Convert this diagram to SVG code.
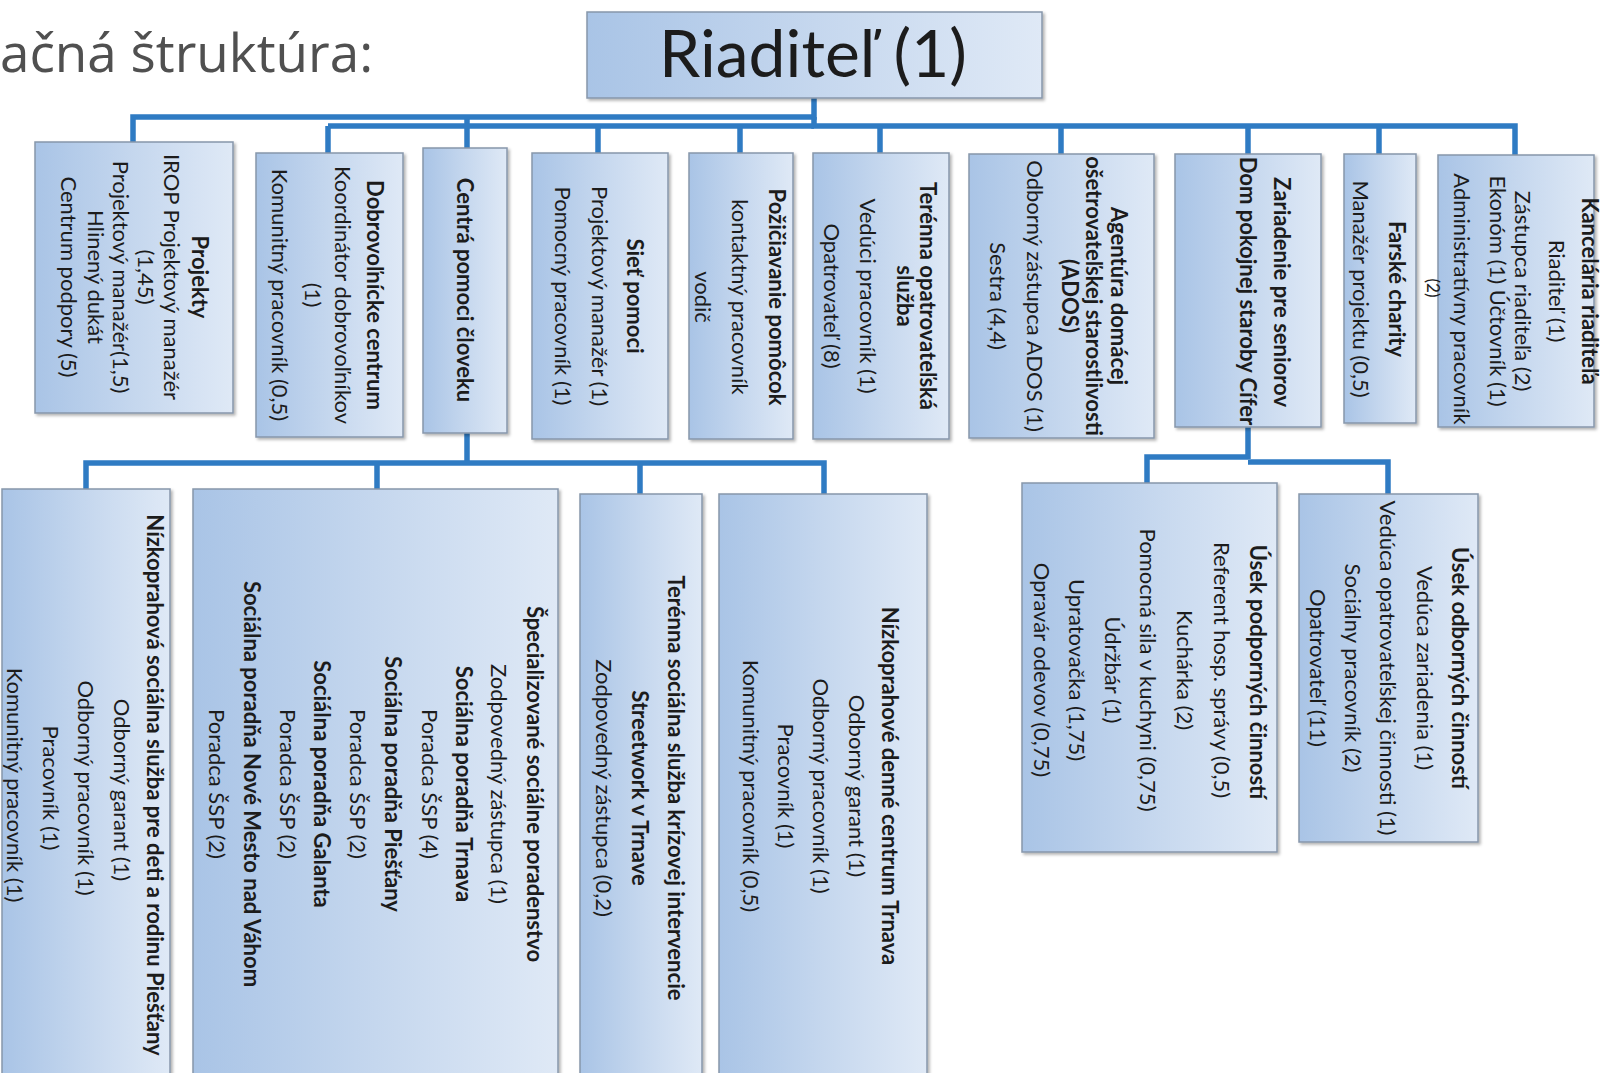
<svg xmlns="http://www.w3.org/2000/svg" width="1609" height="1073" viewBox="0 0 1609 1073">
<defs>
<linearGradient id="bg" x1="0" y1="0" x2="1" y2="0">
<stop offset="0" stop-color="#a9c4e6"/>
<stop offset="0.5" stop-color="#c5d7ee"/>
<stop offset="1" stop-color="#dfe9f6"/>
</linearGradient>
<filter id="sh" x="-5%" y="-5%" width="115%" height="115%">
<feDropShadow dx="2" dy="2" stdDeviation="1.5" flood-color="#000" flood-opacity="0.3"/>
</filter>
<style>
.box{fill:url(#bg);stroke:#8796ab;stroke-width:1.5;filter:url(#sh)}
.t{font-family:Lato,"Open Sans","DejaVu Sans",sans-serif;font-size:22px;fill:#1c1c1c;text-anchor:middle;dominant-baseline:central}
.b{font-weight:bold}
.s{font-size:17px}
.c{fill:none;stroke:#2f7bc3;stroke-width:5.5;stroke-linejoin:miter;stroke-linecap:butt}
</style>
</defs>
<rect width="1609" height="1073" fill="#ffffff"/>
<text x="0" y="72" style="font-family:'Open Sans','Noto Sans',sans-serif;font-size:53px;fill:#505050">ačná štruktúra:</text>

<g id="connectors">
<path class="c" d="M814 98V117H133V142"/>
<path class="c" d="M467 117V148"/>
<path class="c" d="M814 117V126H1515V156"/>
<path class="c" d="M328 126H814M328 126V153"/>
<path class="c" d="M598 126V153M740 126V153M880 126V153M1061 126V154M1248 126V154M1379 126V154"/>
<path class="c" d="M467 433V463M86 489V463H824V494M377 463V489M640 463V494"/>
<path class="c" d="M1248 427V459M1147 483V457H1248M1248 462H1388V494"/>
</g>

<g id="root">
<rect class="box" x="587" y="12" width="455" height="86"/>
<text x="813" y="77" style="font-family:Lato,sans-serif;font-size:66px;fill:#1c1c1c;text-anchor:middle">Riaditeľ (1)</text>
</g>

<g id="projekty">
<rect class="box" x="35" y="142" width="198" height="271"/>
<text class="t b" transform="translate(200,277) rotate(90)">Projekty</text>
<text class="t" transform="translate(172,277) rotate(90)">IROP Projektový manažér</text>
<text class="t" transform="translate(146,277) rotate(90)">(1,45)</text>
<text class="t" transform="translate(121,277) rotate(90)">Projektový manažér(1,5)</text>
<text class="t" transform="translate(96,277) rotate(90)">Hlinený dukát</text>
<text class="t" transform="translate(69,277) rotate(90)">Centrum podpory (5)</text>
</g>

<g id="dobrovolnicke">
<rect class="box" x="256" y="153" width="147" height="284"/>
<text class="t b" transform="translate(375,295) rotate(90)">Dobrovoľnícke centrum</text>
<text class="t" transform="translate(343,295) rotate(90)">Koordinátor dobrovoľníkov</text>
<text class="t" transform="translate(313,295) rotate(90)">(1)</text>
<text class="t" transform="translate(280,295) rotate(90)">Komunitný pracovník (0,5)</text>
</g>

<g id="centra">
<rect class="box" x="423" y="148" width="84" height="285"/>
<text class="t b" transform="translate(465,290) rotate(90)">Centrá pomoci človeku</text>
</g>

<g id="siet">
<rect class="box" x="532" y="153" width="136" height="286"/>
<text class="t b" transform="translate(635,296) rotate(90)">Sieť pomoci</text>
<text class="t" transform="translate(600,296) rotate(90)">Projektový manažér (1)</text>
<text class="t" transform="translate(563,296) rotate(90)">Pomocný pracovník (1)</text>
</g>

<g id="pozicianie">
<rect class="box" x="689" y="153" width="104" height="286"/>
<text class="t b" transform="translate(777,297) rotate(90)">Požičiavanie pomôcok</text>
<text class="t" transform="translate(740,297) rotate(90)">kontaktný pracovník</text>
<text class="t" transform="translate(703,297) rotate(90)">vodič</text>
</g>

<g id="terenna-opatrovatelska">
<rect class="box" x="813" y="153" width="136" height="286"/>
<text class="t b" transform="translate(928,296) rotate(90)">Terénna opatrovateľská</text>
<text class="t b" transform="translate(905,296) rotate(90)">služba</text>
<text class="t" transform="translate(868,296) rotate(90)">Vedúci pracovník (1)</text>
<text class="t" transform="translate(832,296) rotate(90)">Opatrovateľ (8)</text>
</g>

<g id="agentura">
<rect class="box" x="969" y="154" width="185" height="284"/>
<text class="t b" transform="translate(1119,296) rotate(90)">Agentúra domácej</text>
<text class="t b" transform="translate(1094,296) rotate(90)">ošetrovateľskej starostlivosti</text>
<text class="t b" transform="translate(1070,296) rotate(90)">(ADOS)</text>
<text class="t" transform="translate(1035,296) rotate(90)">Odborný zástupca ADOS (1)</text>
<text class="t" transform="translate(998,296) rotate(90)">Sestra (4,4)</text>
</g>

<g id="zariadenie">
<rect class="box" x="1175" y="154" width="146" height="273"/>
<text class="t b" transform="translate(1282,292) rotate(90)">Zariadenie pre seniorov</text>
<text class="t b" transform="translate(1248,291) rotate(90)">Dom pokojnej staroby Cífer</text>
</g>

<g id="farske">
<rect class="box" x="1344" y="154" width="72" height="269"/>
<text class="t b" transform="translate(1397,289) rotate(90)">Farské charity</text>
<text class="t" transform="translate(1361,289) rotate(90)">Manažér projektu (0,5)</text>
</g>

<g id="kancelaria">
<rect class="box" x="1438" y="155" width="156" height="272"/>
<text class="t b" transform="translate(1590,291) rotate(90)">Kancelária riaditeľa</text>
<text class="t" transform="translate(1557,291) rotate(90)">Riaditeľ (1)</text>
<text class="t" transform="translate(1523,291) rotate(90)">Zástupca riaditeľa (2)</text>
<text class="t" transform="translate(1498,291) rotate(90)">Ekonóm (1) Účtovník (1)</text>
<text class="t" transform="translate(1462,299) rotate(90)">Administratívny pracovník</text>
<text class="t s" transform="translate(1433,288) rotate(90)">(2)</text>
</g>

<g id="nizkoprahova-piestany">
<rect class="box" x="2" y="489" width="168" height="600"/>
<text class="t b" transform="translate(155,785) rotate(90)">Nízkoprahová sociálna služba pre deti a rodinu Piešťany</text>
<text class="t" transform="translate(122,790) rotate(90)">Odborný garant (1)</text>
<text class="t" transform="translate(86,788) rotate(90)">Odborný pracovník (1)</text>
<text class="t" transform="translate(51,788) rotate(90)">Pracovník (1)</text>
<text class="t" transform="translate(15,785) rotate(90)">Komunitný pracovník (1)</text>
</g>

<g id="specializovane">
<rect class="box" x="193" y="489" width="365" height="600"/>
<text class="t b" transform="translate(535,784) rotate(90)">Špecializované sociálne poradenstvo</text>
<text class="t" transform="translate(499,784) rotate(90)">Zodpovedný zástupca (1)</text>
<text class="t b" transform="translate(464,784) rotate(90)">Sociálna poradňa Trnava</text>
<text class="t" transform="translate(430,784) rotate(90)">Poradca ŠSP (4)</text>
<text class="t b" transform="translate(393,784) rotate(90)">Sociálna poradňa Piešťany</text>
<text class="t" transform="translate(358,784) rotate(90)">Poradca ŠSP (2)</text>
<text class="t b" transform="translate(322,784) rotate(90)">Sociálna poradňa Galanta</text>
<text class="t" transform="translate(288,784) rotate(90)">Poradca ŠSP (2)</text>
<text class="t b" transform="translate(252,784) rotate(90)">Sociálna poradňa Nové Mesto nad Váhom</text>
<text class="t" transform="translate(217,784) rotate(90)">Poradca ŠSP (2)</text>
</g>

<g id="terenna-socialna">
<rect class="box" x="580" y="494" width="122" height="595"/>
<text class="t b" transform="translate(676,788) rotate(90)">Terénna sociálna služba krízovej intervencie</text>
<text class="t b" transform="translate(640,788) rotate(90)">Streetwork v Trnave</text>
<text class="t" transform="translate(604,788) rotate(90)">Zodpovedný zástupca (0,2)</text>
</g>

<g id="nizkoprahove-trnava">
<rect class="box" x="719" y="494" width="208" height="595"/>
<text class="t b" transform="translate(890,786) rotate(90)">Nízkoprahové denné centrum Trnava</text>
<text class="t" transform="translate(857,786) rotate(90)">Odborný garant (1)</text>
<text class="t" transform="translate(821,786) rotate(90)">Odborný pracovník (1)</text>
<text class="t" transform="translate(786,786) rotate(90)">Pracovník (1)</text>
<text class="t" transform="translate(751,786) rotate(90)">Komunitný pracovník (0,5)</text>
</g>

<g id="usek-podpornych">
<rect class="box" x="1022" y="483" width="255" height="369"/>
<text class="t b" transform="translate(1258,672) rotate(90)">Úsek podporných činností</text>
<text class="t" transform="translate(1222,670) rotate(90)">Referent hosp. správy (0,5)</text>
<text class="t" transform="translate(1185,670) rotate(90)">Kuchárka (2)</text>
<text class="t" transform="translate(1148,670) rotate(90)">Pomocná sila v kuchyni (0,75)</text>
<text class="t" transform="translate(1113,670) rotate(90)">Údržbár (1)</text>
<text class="t" transform="translate(1077,670) rotate(90)">Upratovačka (1,75)</text>
<text class="t" transform="translate(1042,670) rotate(90)">Opravár odevov (0,75)</text>
</g>

<g id="usek-odbornych">
<rect class="box" x="1299" y="494" width="179" height="348"/>
<text class="t b" transform="translate(1460,668) rotate(90)">Úsek odborných činností</text>
<text class="t" transform="translate(1425,668) rotate(90)">Vedúca zariadenia (1)</text>
<text class="t" transform="translate(1388,668) rotate(90)">Vedúca opatrovateľskej činnosti (1)</text>
<text class="t" transform="translate(1353,668) rotate(90)">Sociálny pracovník (2)</text>
<text class="t" transform="translate(1318,668) rotate(90)">Opatrovateľ (11)</text>
</g>
</svg>
